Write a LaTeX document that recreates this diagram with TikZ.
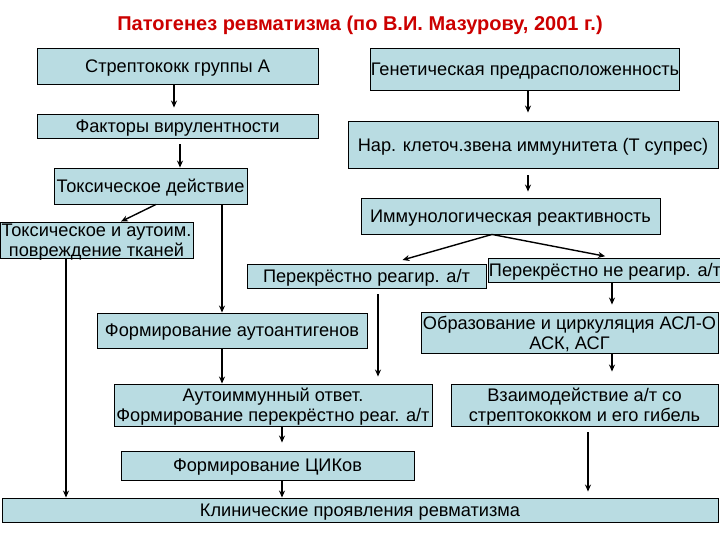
\documentclass[tikz,border=0pt]{standalone}
\usepackage{fontspec}
\setmainfont{Liberation Sans}
\usetikzlibrary{arrows.meta}
\definecolor{boxfill}{RGB}{185,220,226}
\definecolor{titlered}{RGB}{204,0,0}
\begin{document}
\begin{tikzpicture}[x=1pt,y=-1pt,
  box/.style={draw=black,line width=0.9pt,fill=boxfill,inner sep=0pt,align=center,
    text depth=-3pt,font=\fontsize{18.2}{20}\selectfont},
  arr/.style={line width=1.4pt,-{Stealth[length=7pt,width=6pt]}}]
\useasboundingbox[fill=white] (0,0) rectangle (720,540);
\node[font=\fontsize{20}{22}\selectfont\bfseries,text=titlered] (title) at (360,25) {Патогенез ревматизма (по В.И. Мазурову, 2001 г.)};
% left column
\node[box,minimum width=281,minimum height=36] (b1) at (177.5,66) {Стрептококк группы А};
\node[box,minimum width=281,minimum height=24] (b2) at (177.5,126) {Факторы вирулентности};
\node[box,minimum width=193,minimum height=36] (b3) at (150.5,186) {Токсическое действие};
\node[box,minimum width=193,minimum height=36] (b4) at (96.5,240) {Токсическое и аутоим.\\повреждение тканей};
% right column
\node[box,minimum width=306,minimum height=42] (g1) at (525,69) {Генетическая предрасположенность};
\node[box,minimum width=370,minimum height=47] (g2) at (533,144.5) {Нар. клеточ.звена иммунитета (Т супрес)};
\node[box,minimum width=299,minimum height=36] (g3) at (510.5,216) {Иммунологическая реактивность};
\node[box,minimum width=239,minimum height=24] (p1) at (366.5,276) {Перекрёстно реагир. а/т};
\node[box,minimum width=226,minimum height=24] (p2) at (605,270) {Перекрёстно не реагир. а/т};
\node[box,minimum width=270,minimum height=35] (f1) at (232,330.5) {Формирование аутоантигенов};
\node[box,minimum width=297,minimum height=41] (o1) at (569.5,332.5) {Образование и циркуляция АСЛ-О\\АСК, АСГ};
\node[box,minimum width=318,minimum height=42] (a1) at (273,405) {Аутоиммунный ответ.\\Формирование перекрёстно реаг. а/т};
\node[box,minimum width=267,minimum height=42] (v1) at (584.5,405) {Взаимодействие а/т со\\стрептококком и его гибель};
\node[box,minimum width=293,minimum height=29] (c1) at (267.5,465.5) {Формирование ЦИКов};
\node[box,minimum width=716,minimum height=24] (k1) at (360,510) {Клинические проявления ревматизма};
% connectors
\draw[arr,shorten >=6pt] (b1.south -| 174,0) -- (b2.north -| 174,0);
\draw[arr,shorten <=6pt] (b2.south -| 180,0) -- (b3.north -| 180,0);
\draw[arr] (b3.south -| 156,0) -- (b4.north -| 121,0);
\draw[arr] (b3.south -| 222,0) -- (f1.north -| 222,0);
\draw[arr] (b4.south -| 66,0) -- (k1.north -| 66,0);
\draw[arr,shorten >=8pt] (g1.south -| 528,0) -- (g2.north -| 528,0);
\draw[arr,shorten <=7pt,shorten >=6pt] (g2.south -| 528,0) -- (g3.north -| 528,0);
\draw[arr,shorten >=13pt] (g3.south -| 492,0) -- (p1.north -| 390,0);
\draw[arr,shorten >=7pt] (g3.south -| 492,0) -- (p2.north -| 612,0);
\draw[arr,shorten >=7pt] (p2.south -| 612,0) -- (o1.north -| 612,0);
\draw[arr,shorten >=12pt] (o1.south -| 612,0) -- (v1.north -| 612,0);
\draw[arr,shorten <=6pt,shorten >=6pt] (v1.south -| 588,0) -- (k1.north -| 588,0);
\draw[arr,shorten <=6pt,shorten >=7pt] (p1.south -| 378,0) -- (a1.north -| 378,0);
\draw[arr] (f1.south -| 222,0) -- (a1.north -| 222,0);
\draw[arr,shorten >=8pt] (a1.south -| 282,0) -- (c1.north -| 282,0);
\draw[arr] (c1.south -| 282,0) -- (k1.north -| 282,0);
\end{tikzpicture}
\end{document}
